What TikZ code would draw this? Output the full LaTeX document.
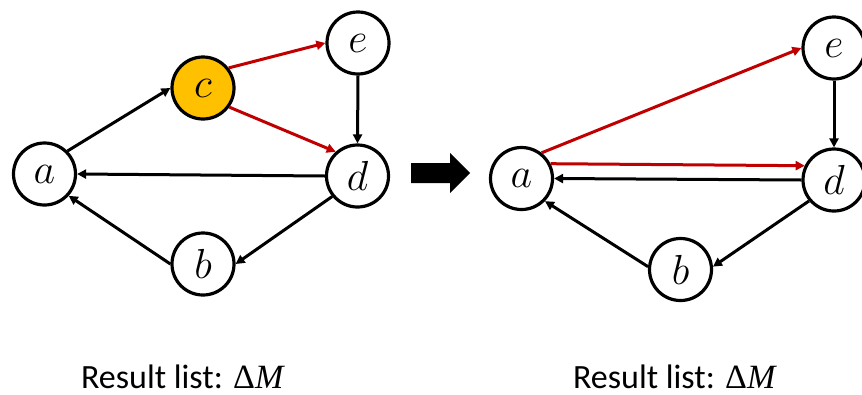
\RequirePackage{fix-cm}
\documentclass[tikz,border=0pt]{standalone}
\usepackage{fontspec}
\setsansfont{Carlito}
\newfontfamily\symserif{Liberation Serif}
\usetikzlibrary{arrows.meta}
\definecolor{nodeorange}{HTML}{FFC000}
\definecolor{edgered}{HTML}{C00000}
\newcommand{\deltaM}{{\symserif\fontsize{34}{37}\selectfont Δ\textit{M}}}
\tikzset{
  vertex/.style={circle, draw=black, line width=3.2pt, fill=white,
    minimum size=62pt, inner sep=0pt, font=\fontsize{42}{44}\selectfont},
  hot/.style={vertex, fill=nodeorange},
  edge/.style={line width=3pt, draw=black,
    -{Triangle[length=9pt,width=9pt]}},
  newedge/.style={edge, draw=edgered, -{Triangle[length=9pt,width=9pt,fill=edgered]}},
  caption/.style={anchor=base, inner sep=0pt, text depth=0pt,
    font=\sffamily\fontsize{34}{37}\selectfont},
}
\begin{document}
\begin{tikzpicture}[x=1pt, y=-1pt]
\useasboundingbox (0,0) rectangle (862,394);

% graph before removing c
\node[vertex] (a1) at (44.5,174) {$a$};
\node[hot]    (c1) at (203,88)   {$c$};
\node[vertex] (e1) at (358,43)   {$e$};
\node[vertex] (d1) at (357.5,176) {$d$};
\node[vertex] (b1) at (203,264)  {$b$};

\draw[edge]    (a1.45)   -- (c1.180);
\draw[newedge] (c1.38)   -- (e1.180);
\draw[newedge] (c1.-36)  -- (d1.132);
\draw[edge]    (e1.south) -- (d1.north);
\draw[edge]    (d1.west) -- (a1.east);
\draw[edge]    (d1.219)  -- (b1.0);
\draw[edge]    (b1.180)  -- (a1.-42);

% transition arrow
\fill (411,163) -- (450,163) -- (450,153) -- (470,173) -- (450,193)
      -- (450,183) -- (411,183) -- cycle;

% graph after removing c
\node[vertex] (a2) at (521.5,178.5) {$a$};
\node[vertex] (e2) at (834,48)      {$e$};
\node[vertex] (d2) at (834,180)     {$d$};
\node[vertex] (b2) at (680.5,269.5) {$b$};

\draw[newedge] (a2.52)   -- (e2.180);
\draw[newedge] (a2.27)   -- (d2.154);
\draw[edge]    (d2.west) -- (a2.east);
\draw[edge]    (e2.south) -- (d2.north);
\draw[edge]    (d2.220)  -- (b2.5);
\draw[edge]    (b2.175)  -- (a2.-44);

% captions
\node[caption] (cap1) at (183,388) {Result list: \deltaM};
\node[caption] (cap2) at (675,388) {Result list: \deltaM};
\end{tikzpicture}
\end{document}
